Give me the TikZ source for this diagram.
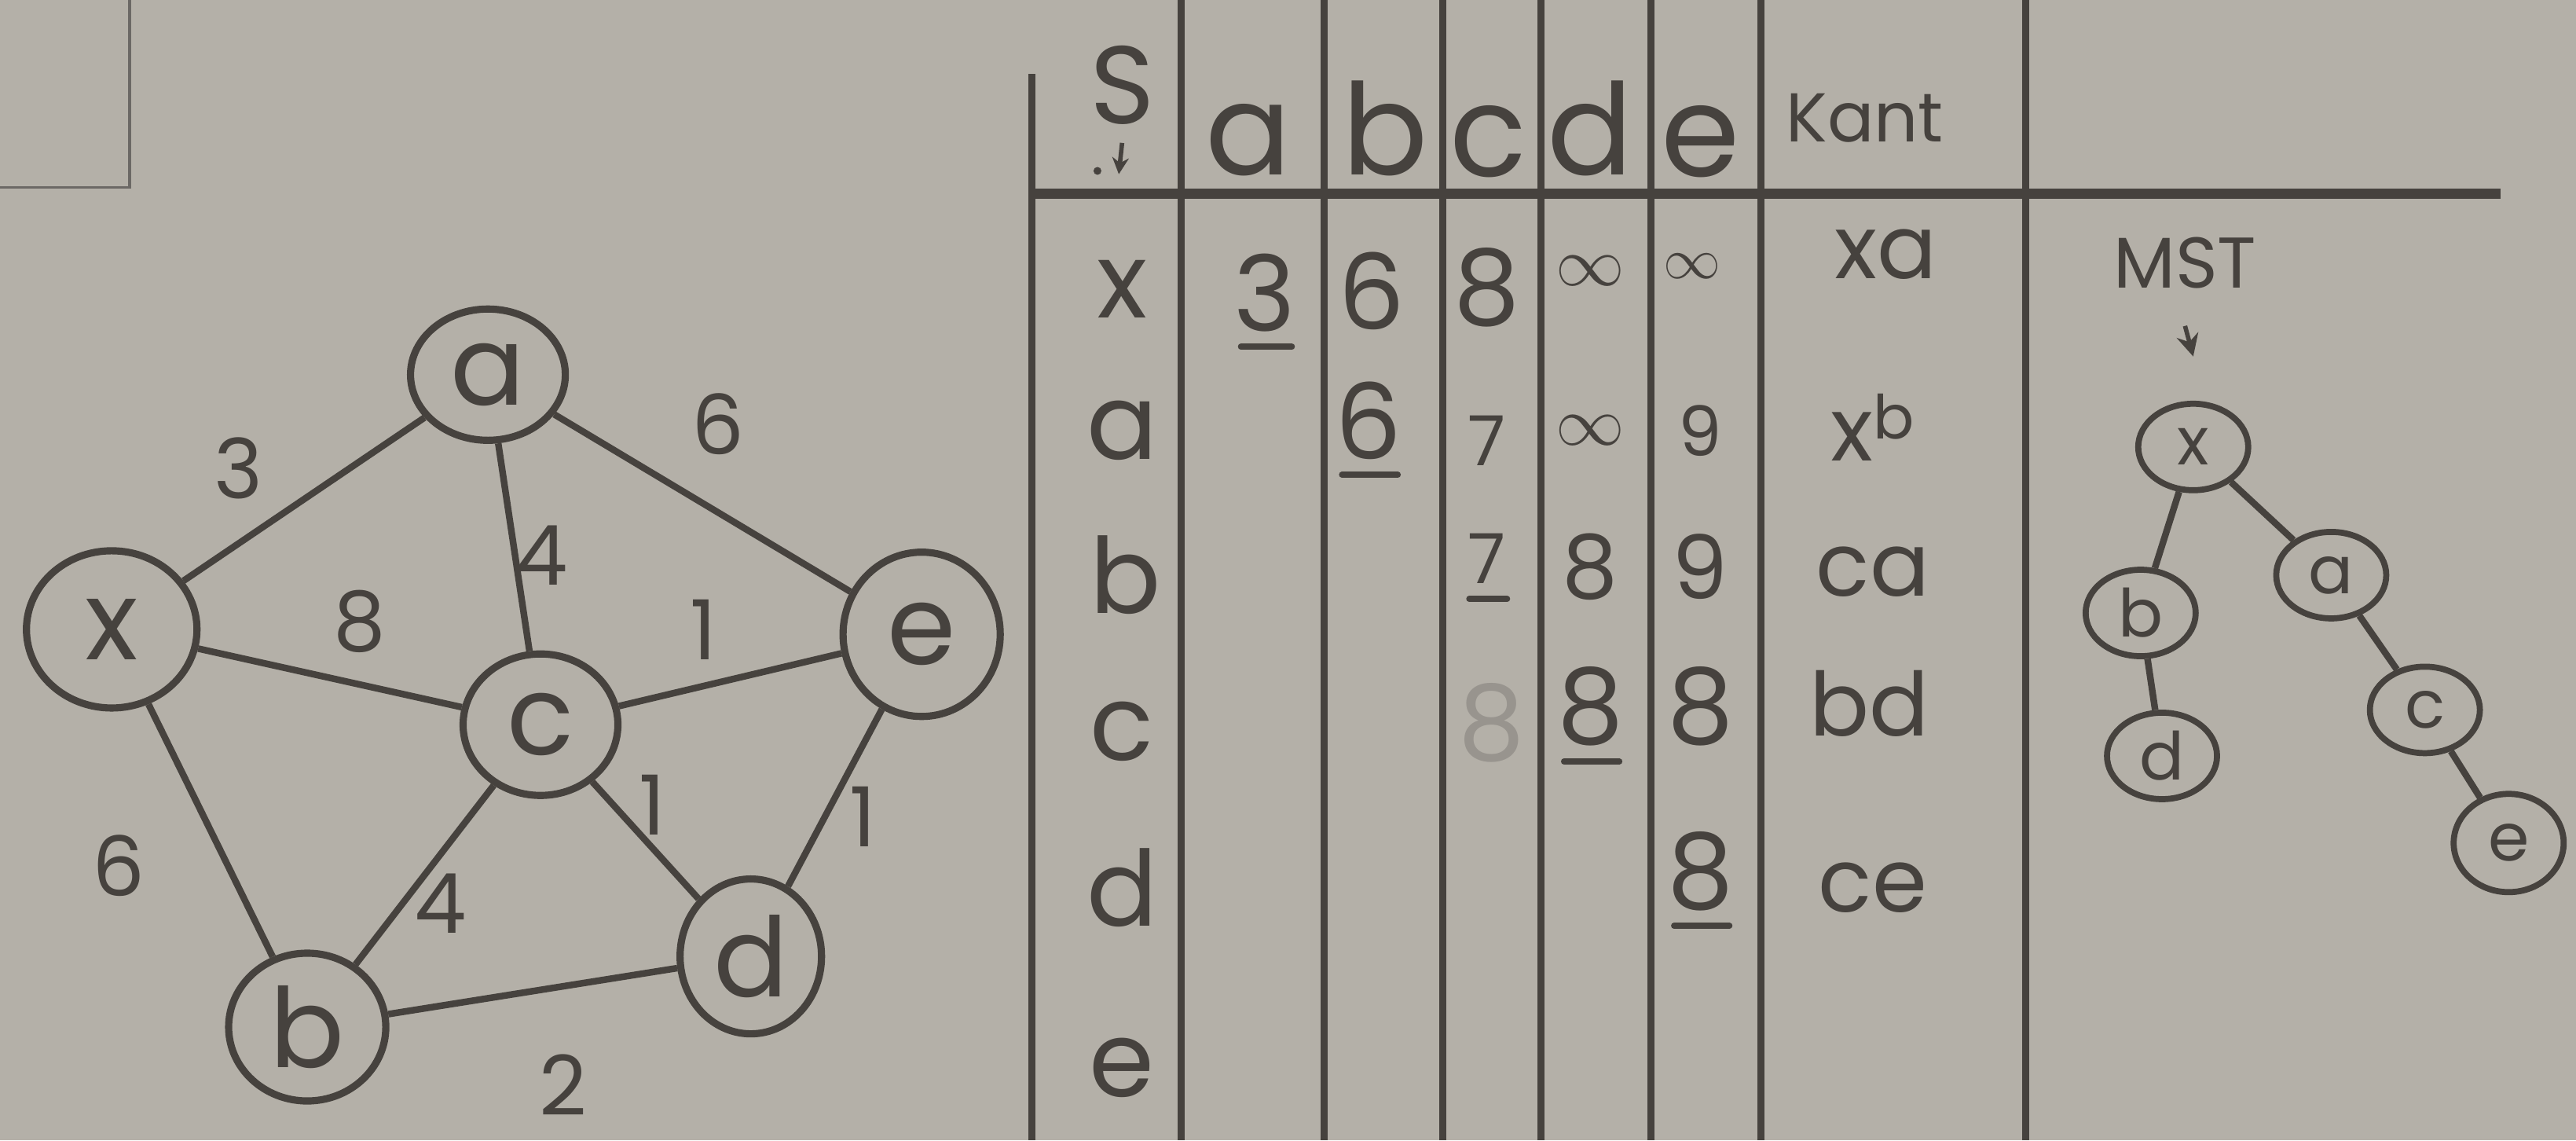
\documentclass[tikz,border=0pt]{standalone}
\usepackage{fontspec}
\setmainfont{Poppins}
\usetikzlibrary{arrows.meta,shapes.geometric}
\definecolor{paper}{RGB}{180,176,168}
\definecolor{ink}{RGB}{70,66,62}

\begin{document}
\begin{tikzpicture}[
  x=0.02091cm, y=-0.02091cm,
  >={Stealth[length=7pt,width=7pt]},
  gnode/.style={ellipse,draw=ink,line width=2.6pt,inner sep=0pt,text=ink,font=\fontsize{40}{40}\selectfont},
  tnode/.style={ellipse,draw=ink,line width=2.2pt,inner sep=0pt,minimum width=1.4cm,minimum height=1.1cm,text=ink,font=\fontsize{24}{24}\selectfont},
  edge/.style={draw=ink,line width=2.4pt},
  wlabel/.style={text=ink,font=\fontsize{30}{30}\selectfont},
  rule/.style={draw=ink,line width=2.6pt},
  head/.style={text=ink,font=\fontsize{46}{46}\selectfont},
  cell/.style={text=ink,font=\fontsize{38}{38}\selectfont},
  mid/.style={text=ink,font=\fontsize{32}{32}\selectfont},
  small/.style={text=ink,font=\fontsize{25}{25}\selectfont},
  pick/.style={draw=ink,line width=2.2pt,line cap=round}
]

% ---- paper ----
\fill[paper] (0,0) rectangle (1568,694);
\useasboundingbox (0,0) rectangle (1568,694);
\draw[ink!80,line width=1pt] (0,114) -- (79,114) -- (79,0);

% ---- graph ----
\node[gnode,minimum width=1.97cm,minimum height=1.67cm] (a) at (297,228) {a};
\node[gnode,minimum width=2.17cm,minimum height=2.0cm] (x) at (68,383) {x};
\node[gnode,minimum width=2.0cm,minimum height=2.09cm] (e) at (561,386) {e};
\node[gnode,minimum width=1.97cm,minimum height=1.8cm] (c) at (329,441) {c};
\node[gnode,minimum width=1.8cm,minimum height=1.97cm] (d) at (457,582) {d};
\node[gnode,minimum width=2.0cm,minimum height=1.88cm] (b) at (187,625) {b};

\draw[edge] (x) -- (a);
\draw[edge] (a) -- (e);
\draw[edge] (a) -- (c);
\draw[edge] (x) -- (c);
\draw[edge] (c) -- (e);
\draw[edge] (x) -- (b);
\draw[edge] (c) -- (b);
\draw[edge] (c) -- (d);
\draw[edge] (e) -- (d);
\draw[edge] (b) -- (d);

\node[wlabel] (wxa) at (145,285) {3};
\node[wlabel] (wae) at (437,258) {6};
\node[wlabel] (wac) at (330,338) {4};
\node[wlabel] (wxc) at (219,378) {8};
\node[wlabel] (wce) at (428,383) {1};
\node[wlabel] (wxb) at (72,527) {6};
\node[wlabel] (wcb) at (268,550) {4};
\node[wlabel] (wcd) at (397,490) {1};
\node[wlabel] (wed) at (525,497) {1};
\node[wlabel] (wbd) at (343,660) {2};

% ---- table rules ----
\draw[rule] (628,45) -- (628,694);
\foreach \cx in {719,806,878,938,1005,1072,1233}
  \draw[rule] (\cx,0) -- (\cx,694);
\draw[rule,line width=3.6pt] (628,118) -- (1522,118);

% ---- header ----
\node[text=ink,font=\fontsize{40}{40}\selectfont] (hs) at (683,52) {S};
\coordinate (sarr) at (681,106);
\draw[->,ink,line width=1.6pt,>={Stealth[length=6pt,width=6pt]}] ([yshift=-3pt]hs.south) -- (sarr);
\fill[ink] (668,104) circle (2.4);
\node[head] (ha) at (760,85) {a};
\node[head] (hb) at (843,78) {b};
\node[head] (hc) at (906,86) {c};
\node[head] (hd) at (968,78) {d};
\node[head] (he) at (1035,86) {e};
\node[small] (hk) at (1135,72) {Kant};

% ---- rows ----
\node[cell] (rx) at (683,176) {x};
\node[cell] (ra) at (683,262) {a};
\node[cell] (rb) at (685,350) {b};
\node[cell] (rc) at (683,445) {c};
\node[cell] (rd) at (683,540) {d};
\node[cell] (re) at (683,650) {e};

% row x
\node[cell] (xa3) at (770,178) {3};
\node[cell] (xb6) at (835,177) {6};
\node[cell] (xc8) at (905,175) {8};
\node[small] (xd) at (968,165) {$\infty$};
\node[text=ink,font=\fontsize{20}{20}\selectfont] (xe) at (1030,162) {$\infty$};
\node[mid] (kxa) at (1148,155) {xa};
\draw[pick] ([xshift=6pt,yshift=-2pt]xa3.south west) -- ([xshift=-5pt,yshift=-2pt]xa3.south east);

% row a
\node[cell] (ab6) at (833,256) {6};
\node[small] (ac7) at (905,268) {7};
\node[small] (ad) at (968,262) {$\infty$};
\node[small] (ae9) at (1035,262) {9};
\node[mid] (kxb) at (1140,260) {x\raisebox{8pt}{\fontsize{22}{22}\selectfont b}};
\draw[pick] ([xshift=6pt,yshift=-2pt]ab6.south west) -- ([xshift=-5pt,yshift=-2pt]ab6.south east);

% row b
\node[small] (bc7) at (905,340) {7};
\node[mid] (bd8) at (968,345) {8};
\node[mid] (be9) at (1035,345) {9};
\node[mid] (kca) at (1140,348) {ca};
\draw[pick] ([xshift=4pt,yshift=-2pt]bc7.south west) -- ([xshift=-3pt,yshift=-2pt]bc7.south east);

% row c
\node[cell,text=paper!75!ink] (cc8) at (908,440) {8};
\node[cell] (cd8) at (968,430) {8};
\node[cell] (ce8) at (1035,430) {8};
\node[mid] (kbd) at (1138,428) {bd};
\draw[pick] ([xshift=6pt,yshift=-2pt]cd8.south west) -- ([xshift=-5pt,yshift=-2pt]cd8.south east);

% row d
\node[cell] (de8) at (1035,530) {8};
\node[mid] (kce) at (1140,540) {ce};
\draw[pick] ([xshift=6pt,yshift=-2pt]de8.south west) -- ([xshift=-5pt,yshift=-2pt]de8.south east);

% ---- MST ----
\node[text=ink,font=\fontsize{26}{26}\selectfont] (mst) at (1330,160) {MST};
\node[tnode] (mx) at (1335,272) {x};
\node[tnode] (mb) at (1303,373) {b};
\node[tnode] (ma) at (1419,350) {a};
\node[tnode] (md) at (1316,460) {d};
\node[tnode] (mc) at (1476,432) {c};
\node[tnode,minimum height=1.25cm] (me) at (1527,513) {e};
\draw[->,ink,line width=1.6pt,>={Stealth[length=8pt,width=8pt]}] ([yshift=-10pt]mst.south) -- ([yshift=16pt]mx.north);

\draw[edge] (mx) -- (mb);
\draw[edge] (mx) -- (ma);
\draw[edge] (mb) -- (md);
\draw[edge] (ma) -- (mc);
\draw[edge] (mc) -- (me);

\end{tikzpicture}
\end{document}
